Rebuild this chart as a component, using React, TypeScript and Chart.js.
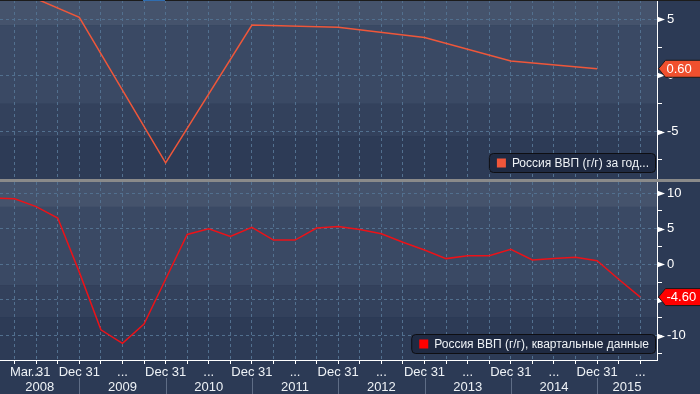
import React, { useEffect, useRef } from 'react';
import { Chart, registerables } from 'chart.js';

Chart.register(...registerables);

// ---------- data ----------
const annualDates = ['2007-12-31', '2008-12-31', '2009-12-31', '2010-12-31', '2011-12-31', '2012-12-31', '2013-12-31', '2014-12-31'];
const annualGdp = [8.5, 5.2, -7.8, 4.5, 4.3, 3.4, 1.3, 0.6];

const quarterDates = [
  '2007-12-31',
  '2008-03-31', '2008-06-30', '2008-09-30', '2008-12-31',
  '2009-03-31', '2009-06-30', '2009-09-30', '2009-12-31',
  '2010-03-31', '2010-06-30', '2010-09-30', '2010-12-31',
  '2011-03-31', '2011-06-30', '2011-09-30', '2011-12-31',
  '2012-03-31', '2012-06-30', '2012-09-30', '2012-12-31',
  '2013-03-31', '2013-06-30', '2013-09-30', '2013-12-31',
  '2014-03-31', '2014-06-30', '2014-09-30', '2014-12-31',
  '2015-03-31', '2015-06-30',
];
const quarterlyGdp = [
  9.3,
  9.2, 8.1, 6.5, -1.1,
  -9.2, -11.1, -8.4, -2.1,
  4.2, 5.0, 3.9, 5.2,
  3.4, 3.4, 5.1, 5.3,
  4.9, 4.3, 3.1, 2.0,
  0.8, 1.2, 1.2, 2.1,
  0.6, 0.8, 1.0, 0.5,
  -2.1, -4.6,
];

const yearLabels = ['2008', '2009', '2010', '2011', '2012', '2013', '2014', '2015'];
const topYTicks = [-7.5, -5, -2.5, 0, 2.5, 5];
const bottomYTicks = [-12.5, -10, -7.5, -5, -2.5, 0, 2.5, 5, 7.5, 10];
const topLegendText = 'Россия ВВП (г/г) за год...';
const bottomLegendText = 'Россия ВВП (г/г), квартальные данные';

const X_MIN = 2008.081;
const X_MAX = 2015.694;
const TOP_Y = { min: -9.24, max: 6.74 };
const BOTTOM_Y = { min: -13.44, max: 11.56 };

// ---------- style ----------
const FONT = '"Liberation Sans", Arial, "DejaVu Sans", sans-serif';
const GRID = '#52708f';
const BG = '#2c3a55';
const BAND_STOPS = [0, 0.14, 0.58, 0.76, 1];
const BAND_COLORS = ['#45536c', '#3a4964', '#33415c', '#2d3b56'];
const MON = ['Jan', 'Feb', 'Mar', 'Apr', 'May', 'Jun', 'Jul', 'Aug', 'Sep', 'Oct', 'Nov', 'Dec'];

const toX = (s: string) => {
  const [y, m] = s.split('-').map(Number);
  return y + m / 12;
};

const isMajor = (v: number) => Math.abs(v % 5) < 1e-9;

type Cfg = {
  dates: string[];
  values: number[];
  lineColor: string;
  tagColor: string;
  legendText: string;
  legendColor: string;
  yRange: { min: number; max: number };
  yTicks: number[];
  bottom: boolean;
};

function makePlugin(cfg: Cfg) {
  return {
    id: 'deco',
    beforeDraw(chart: any) {
      const { ctx, chartArea: a } = chart;
      ctx.save();
      for (let i = 0; i < BAND_COLORS.length; i++) {
        const y0 = a.top + BAND_STOPS[i] * (a.bottom - a.top);
        const y1 = a.top + BAND_STOPS[i + 1] * (a.bottom - a.top);
        ctx.fillStyle = BAND_COLORS[i];
        ctx.fillRect(a.left, y0, a.right - a.left, y1 - y0);
      }
      ctx.restore();
    },
    afterDraw(chart: any) {
      const { ctx, chartArea: a } = chart;
      const xs = chart.scales.x;
      const ys = chart.scales.y;
      ctx.save();
      // arrow markers on major ticks
      ctx.fillStyle = '#ffffff';
      for (const t of ys.ticks) {
        if (!isMajor(t.value)) continue;
        const py = Math.round(ys.getPixelForValue(t.value)) + 0.5;
        ctx.beginPath();
        ctx.moveTo(a.right, py - 3);
        ctx.lineTo(a.right + 8, py);
        ctx.lineTo(a.right, py + 3);
        ctx.closePath();
        ctx.fill();
      }

      // x axis labels (bottom chart)
      if (cfg.bottom) {
        ctx.font = `13px ${FONT}`;
        ctx.fillStyle = '#eef2f6';
        ctx.textBaseline = 'middle';
        ctx.textAlign = 'left';
        let first = true;
        for (const d of quarterDates) {
          const v = toX(d);
          if (v < xs.min || v > xs.max) continue;
          const [, m, dd] = d.split('-').map(Number);
          let label = '';
          if (first) label = `${MON[m - 1]} ${dd}`;
          else if (m === 12) label = `${MON[m - 1]} ${dd}`;
          else if (m === 6) label = '...';
          first = false;
          if (!label) continue;
          const px = xs.getPixelForValue(v);
          const w = ctx.measureText(label).width;
          const left = Math.max(px - w / 2, a.left + 10);
          ctx.fillText(label, left, a.bottom + 12);
        }
        ctx.textAlign = 'center';
        for (const yl of yearLabels) {
          const yv = Number(yl);
          const x0 = Math.max(xs.getPixelForValue(yv), a.left);
          const x1 = Math.min(xs.getPixelForValue(yv + 1), a.right);
          ctx.fillText(yl, (x0 + x1) / 2, a.bottom + 27);
        }
        ctx.strokeStyle = '#5f6d86';
        ctx.lineWidth = 1;
        for (const yl of yearLabels) {
          const px = xs.getPixelForValue(Number(yl));
          if (px <= a.left || px >= a.right) continue;
          const x = Math.round(px) + 0.5;
          ctx.beginPath();
          ctx.moveTo(x, a.bottom + 18);
          ctx.lineTo(x, chart.height);
          ctx.stroke();
        }
      }

      // legend box
      ctx.font = `12px ${FONT}`;
      const tw = ctx.measureText(cfg.legendText).width;
      const bw = 7 + 9 + 6 + tw + 7;
      const bh = 19;
      const bx = a.right - 2 - bw;
      const by = a.bottom - 7 - bh;
      ctx.beginPath();
      ctx.roundRect(bx + 0.5, by + 0.5, bw, bh, 4);
      ctx.fillStyle = '#1f2a42';
      ctx.fill();
      ctx.strokeStyle = '#0e0e12';
      ctx.lineWidth = 1;
      ctx.stroke();
      ctx.fillStyle = cfg.legendColor;
      ctx.fillRect(bx + 8, by + 5.5, 9, 9);
      ctx.fillStyle = '#eef2f6';
      ctx.textAlign = 'left';
      ctx.textBaseline = 'middle';
      ctx.fillText(cfg.legendText, bx + 8 + 9 + 6, by + bh / 2 + 1);

      // last value tag
      const last = cfg.values[cfg.values.length - 1];
      const ty = ys.getPixelForValue(last);
      const tipX = a.right + 1.5;
      const bodyX = tipX + 7;
      const hh = 8.5;
      ctx.beginPath();
      ctx.moveTo(tipX, ty);
      ctx.lineTo(bodyX, ty - hh);
      ctx.lineTo(chart.width + 2, ty - hh);
      ctx.lineTo(chart.width + 2, ty + hh);
      ctx.lineTo(bodyX, ty + hh);
      ctx.closePath();
      ctx.fillStyle = cfg.tagColor;
      ctx.fill();
      ctx.strokeStyle = '#1a1a1a';
      ctx.stroke();
      ctx.fillStyle = '#ffffff';
      ctx.font = `13px ${FONT}`;
      ctx.textBaseline = 'middle';
      ctx.textAlign = 'left';
      ctx.fillText(last.toFixed(2), bodyX + 1, ty + 0.5);
      ctx.restore();
    },
  };
}

function makeChart(canvas: HTMLCanvasElement, cfg: Cfg) {
  const xTicks = quarterDates.map(toX).filter((v) => v >= X_MIN && v <= X_MAX);
  const points = cfg.dates.map((d, i) => ({ x: toX(d), y: cfg.values[i] }));
  return new Chart(canvas, {
    type: 'line',
    data: {
      datasets: [
        {
          data: points,
          borderColor: cfg.lineColor,
          borderWidth: 1.5,
          pointRadius: 0,
          tension: 0,
          fill: false,
        },
      ],
    },
    options: {
      animation: false,
      responsive: false,
      maintainAspectRatio: false,
      events: [],
      layout: { padding: 0 },
      plugins: { legend: { display: false }, tooltip: { enabled: false } },
      scales: {
        x: {
          type: 'linear',
          min: X_MIN,
          max: X_MAX,
          afterBuildTicks: (s: any) => {
            s.ticks = xTicks.map((v) => ({ value: v }));
          },
          afterFit: (s: any) => {
            s.height = cfg.bottom ? 34 : 0;
            s.paddingLeft = 0;
            s.paddingRight = 0;
            s.paddingTop = 0;
            s.paddingBottom = 0;
          },
          ticks: { display: false },
          grid: {
            color: GRID,
            drawTicks: cfg.bottom,
            tickLength: 4,
            tickColor: '#ffffff',
            tickWidth: 1,
            lineWidth: 1,
          },
          border: { display: cfg.bottom, color: '#ffffff', width: 1, dash: [3, 3] },
        },
        y: {
          type: 'linear',
          position: 'right',
          min: cfg.yRange.min,
          max: cfg.yRange.max,
          afterBuildTicks: (s: any) => {
            s.ticks = cfg.yTicks.map((v) => ({ value: v }));
          },
          afterFit: (s: any) => {
            s.width = 43;
            s.paddingTop = 0;
            s.paddingBottom = 0;
            s.paddingLeft = 0;
            s.paddingRight = 0;
          },
          ticks: {
            autoSkip: false,
            color: '#ffffff',
            padding: 5,
            font: { family: FONT, size: 13 },
            callback: (v: any) => (isMajor(Number(v)) ? String(v) : ''),
          },
          grid: {
            color: (c: any) => (c.tick && isMajor(c.tick.value) ? GRID : 'rgba(0,0,0,0)'),
            tickColor: '#ffffff',
            tickLength: 5,
            tickWidth: 1,
            lineWidth: 1,
          },
          border: { display: true, color: '#ffffff', width: 1, dash: [3, 3] },
        },
      },
    },
    plugins: [makePlugin(cfg)],
  } as any);
}

export default function App() {
  const topRef = useRef<HTMLCanvasElement>(null);
  const botRef = useRef<HTMLCanvasElement>(null);

  useEffect(() => {
    const top = makeChart(topRef.current!, {
      dates: annualDates,
      values: annualGdp,
      lineColor: '#ef573a',
      tagColor: '#f0502e',
      legendText: topLegendText,
      legendColor: '#f0563a',
      yRange: TOP_Y,
      yTicks: topYTicks,
      bottom: false,
    });
    const bot = makeChart(botRef.current!, {
      dates: quarterDates,
      values: quarterlyGdp,
      lineColor: '#ec1218',
      tagColor: '#ff0000',
      legendText: bottomLegendText,
      legendColor: '#ff0000',
      yRange: BOTTOM_Y,
      yTicks: bottomYTicks,
      bottom: true,
    });
    return () => {
      top.destroy();
      bot.destroy();
    };
  }, []);

  return (
    <div style={{ position: 'absolute', left: 0, top: 0, width: 700, height: 394, background: BG, overflow: 'hidden' }}>
      <canvas ref={topRef} width={700} height={179} style={{ position: 'absolute', left: 0, top: 0, width: 700, height: 179 }} />
      <div style={{ position: 'absolute', left: 0, top: 179, width: 700, height: 3, background: '#8a8a8a' }} />
      <canvas ref={botRef} width={700} height={212} style={{ position: 'absolute', left: 0, top: 182, width: 700, height: 212 }} />
      <div style={{ position: 'absolute', left: 0, top: 0, width: 700, height: 1, background: '#1c1c1c' }} />
      <div style={{ position: 'absolute', left: 143, top: 0, width: 22, height: 1, background: '#2f6db0' }} />
    </div>
  );
}
